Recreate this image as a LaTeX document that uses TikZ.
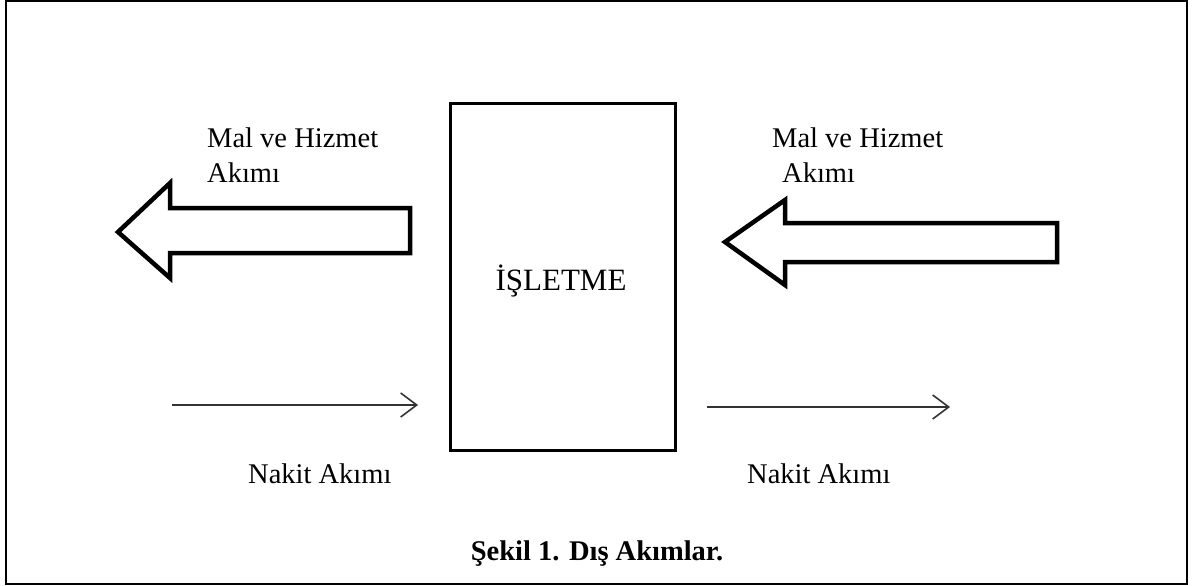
\documentclass[tikz,border=0pt]{standalone}
\usepackage{fontspec}
\setmainfont{Liberation Serif}
\usetikzlibrary{arrows.meta}
\tikzset{
  lbl/.style={inner sep=0pt, font=\fontsize{28.5}{34}\selectfont},
  biglbl/.style={inner sep=0pt, font=\fontsize{31}{37}\selectfont},
  captext/.style={inner sep=0pt, font=\fontsize{28.5}{34}\selectfont\bfseries},
  bigarrow/.style={draw=black, line width=4.5pt, line join=miter, fill=white},
  thinarrow/.style={draw=black!80, line width=1.6pt, -{Straight Barb[length=16pt,width=24pt,line width=1.6pt]}},
  firmbox/.style={draw=black, line width=3pt, inner sep=0pt}
}
\begin{document}
\begin{tikzpicture}[x=1pt,y=-1pt]
\useasboundingbox (0,0) rectangle (1192,586);
\draw[line width=2pt] (6,1) rectangle (1187,584);

% central box
\node[firmbox, minimum width=225pt, minimum height=347pt] (box) at (562.5,276.5) {};
\node[biglbl, anchor=base] (isl) at (561,290) {İŞLETME};

% big arrows
\draw[bigarrow] (118,232) -- (170,183) -- (170,208) -- (410,208) -- (410,253) -- (170,253) -- (170,278) -- cycle;
\draw[bigarrow] (725,242) -- (785,200) -- (785,223) -- (1057,223) -- (1057,262) -- (785,262) -- (785,285) -- cycle;

% labels above
\node[lbl, anchor=base west] (ml1) at (207,147) {Mal ve Hizmet};
\node[lbl, anchor=base west] (ml2) at (207,182) {Akımı};
\node[lbl, anchor=base west] (mr1) at (772,147) {Mal ve Hizmet};
\node[lbl, anchor=base west] (mr2) at (782,182) {Akımı};

% thin arrows
\coordinate (la) at (172,405);
\coordinate (lb) at (418,405);
\coordinate (ra) at (707,407);
\coordinate (rb) at (950,407);
\draw[thinarrow] (la) -- (lb);
\draw[thinarrow] (ra) -- (rb);

\node[lbl, anchor=base west] (nl) at (248,483) {Nakit Akımı};
\node[lbl, anchor=base west] (nr) at (747,483) {Nakit Akımı};

\node[captext, anchor=base] (caption) at (597,560) {Şekil 1. Dış Akımlar.};
\end{tikzpicture}
\end{document}
